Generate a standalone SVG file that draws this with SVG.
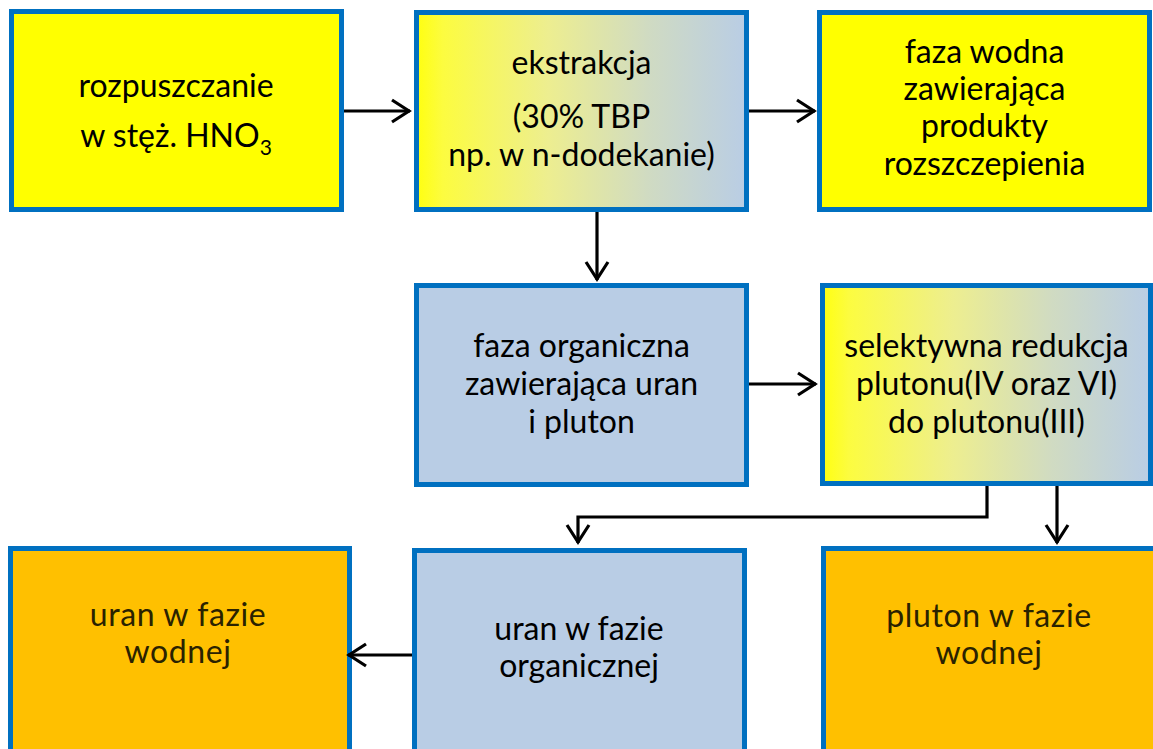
<svg xmlns="http://www.w3.org/2000/svg" width="1153" height="749" viewBox="0 0 1153 749">
<defs>
<linearGradient id="grad" x1="0" y1="0" x2="1" y2="0">
<stop offset="0" stop-color="#FFFF10"/>
<stop offset="0.08" stop-color="#FCFC40"/>
<stop offset="0.4" stop-color="#EDEE90"/>
<stop offset="0.7" stop-color="#D0DBC2"/>
<stop offset="1" stop-color="#B9CDE5"/>
</linearGradient>
<marker id="arr" viewBox="0 0 22 26" refX="20" refY="13" markerWidth="22" markerHeight="26" markerUnits="userSpaceOnUse" orient="auto">
<path d="M2,2 L19,13 L2,24" fill="none" stroke="#000" stroke-width="3.2"/>
</marker>
<style>
.box{stroke:#0070C0;stroke-width:5}
.y{fill:#FFFF00}
.b{fill:#B9CDE5}
.o{fill:#FFC000}
.g{fill:url(#grad)}
text{font-family:Lato,"Open Sans","Liberation Sans",sans-serif;font-size:32px;fill:#000;text-anchor:middle}
.dim{fill:#2a2200;letter-spacing:0.6px}
.c{fill:none;stroke:#000;stroke-width:3.2;marker-end:url(#arr)}
</style>
</defs>
<g id="n1">
<rect class="box y" x="11.5" y="11.5" width="330" height="198"/>
<text x="176" y="97">rozpuszczanie</text>
<text x="176" y="147">w stęż. HNO<tspan dy="8" font-size="21">3</tspan></text>
</g>
<g id="n2">
<rect class="box g" x="416.5" y="12.5" width="330" height="197"/>
<text x="581.5" y="74">ekstrakcja</text>
<text x="581.5" y="128">(30% TBP</text>
<text x="581.5" y="166">np. w n-dodekanie)</text>
</g>
<g id="n3">
<rect class="box y" x="819.5" y="12.5" width="330" height="197"/>
<text x="984.5" y="63">faza wodna</text>
<text x="984.5" y="100">zawierająca</text>
<text x="984.5" y="137">produkty</text>
<text x="984.5" y="175">rozszczepienia</text>
</g>
<g id="n4">
<rect class="box b" x="416.5" y="285.5" width="330" height="199"/>
<text x="581.5" y="357">faza organiczna</text>
<text x="581.5" y="395">zawierająca uran</text>
<text x="581.5" y="433">i pluton</text>
</g>
<g id="n5">
<rect class="box g" x="822.5" y="285.5" width="328" height="198"/>
<text x="986.5" y="357">selektywna redukcja</text>
<text x="986.5" y="395">plutonu(IV oraz VI)</text>
<text x="986.5" y="433">do plutonu(III)</text>
</g>
<g id="n6">
<rect class="box o" x="10.5" y="548.5" width="339" height="220"/>
<text class="dim" x="178" y="626">uran w fazie</text>
<text class="dim" x="178" y="663">wodnej</text>
</g>
<g id="n7">
<rect class="box b" x="414.5" y="550.5" width="330" height="220"/>
<text x="579" y="640">uran w fazie</text>
<text x="579" y="677">organicznej</text>
</g>
<g id="n8">
<rect class="box o" x="823.5" y="548.5" width="340" height="220"/>
<text class="dim" x="989" y="627">pluton w fazie</text>
<text class="dim" x="989" y="664">wodnej</text>
</g>
<g id="connectors">
<line class="c" x1="344" y1="111" x2="410" y2="111"/>
<line class="c" x1="749" y1="111" x2="815" y2="111"/>
<line class="c" x1="597" y1="212" x2="597" y2="280"/>
<line class="c" x1="749" y1="384" x2="816" y2="384"/>
<polyline class="c" points="987,486 987,517 578,517 578,543"/>
<line class="c" x1="1057" y1="486" x2="1057" y2="543"/>
<line class="c" x1="412" y1="655" x2="348" y2="655"/>
</g>
</svg>
